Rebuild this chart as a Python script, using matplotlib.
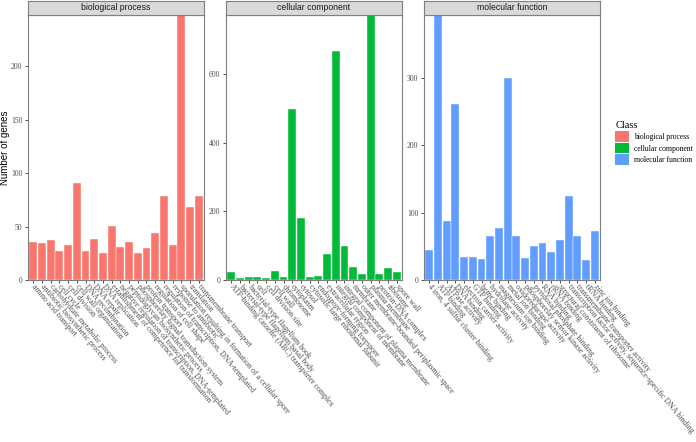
import matplotlib
matplotlib.use("Agg")
import matplotlib.pyplot as plt
from matplotlib.patches import Patch
from matplotlib.ticker import MultipleLocator

W, H = 696, 442
SERIF, SANS = "Liberation Serif", "Liberation Sans"

bp_terms = [
    "amino acid transport", "antibiotic biosynthetic process",
    "carbohydrate metabolic process", "cell cycle", "cell division",
    "cell wall organization", "DNA recombination", "DNA repair",
    "DNA replication", "establishment of competence for transformation",
    "negative regulation of transcription, DNA-templated",
    "peptidoglycan biosynthetic process", "phosphorelay signal transduction system",
    "protein transport", "regulation of cell shape",
    "regulation of transcription, DNA-templated", "response to antibiotic",
    "sporulation resulting in formation of a cellular spore", "translation",
    "transmembrane transport",
]
bp_counts = [36, 35, 37, 27, 33, 91, 27, 38, 25, 51, 31, 36, 25, 30, 44, 79, 33, 248, 68, 79]

cc_terms = [
    "ATP-binding cassette (ABC) transporter complex",
    "bacterial-type flagellum basal body", "bacterial-type flagellum hook",
    "cell", "cell division site", "cell wall", "chromosome", "cytoplasm",
    "cytosol", "cytosolic large ribosomal subunit", "endospore-forming forespore",
    "extracellular region", "integral component of membrane",
    "integral component of plasma membrane", "membrane",
    "outer membrane-bounded periplasmic space", "plasma membrane",
    "protein-DNA complex", "ribosome", "spore wall",
]
cc_counts = [22, 7, 9, 8, 7, 25, 9, 497, 180, 8, 12, 77, 667, 99, 37, 18, 772, 18, 36, 24]

mf_terms = [
    "4 iron, 4 sulfur cluster binding", "ATP binding", "ATPase activity",
    "DNA binding", "electron carrier activity", "GTP binding", "heme binding",
    "hydrolase activity", "magnesium ion binding", "metal ion binding",
    "oxidoreductase activity", "phosphorelay sensor kinase activity",
    "pyridoxal phosphate binding", "RNA binding", "rRNA binding",
    "structural constituent of ribosome",
    "transcription factor activity, sequence-specific DNA binding",
    "transmembrane transporter activity", "tRNA binding", "zinc ion binding",
]
mf_counts = [45, 394, 87, 262, 34, 34, 31, 65, 78, 300, 65, 33, 51, 55, 42, 60, 125, 65, 29, 73]

panels = [
    ("biological process", bp_terms, bp_counts, "#F8766D", 50),
    ("cellular component", cc_terms, cc_counts, "#00BA38", 200),
    ("molecular function", mf_terms, mf_counts, "#619CFF", 100),
]


def box(left, top, w, h):
    # pixel box -> figure fraction
    return [left / W, 1 - (top + h) / H, w / W, h / H]


fig = plt.figure(figsize=(W / 100, H / 100), dpi=100)

for i, (name, terms, counts, col, step) in enumerate(panels):
    left = 28 + i * 198
    ax = fig.add_axes(box(left, 15, 176, 265))
    x = list(range(len(terms)))
    ax.bar(x, counts, width=0.9, color=col, edgecolor="white", linewidth=0.3)
    ax.set_xlim(-0.6, len(terms) - 0.4)
    ax.set_ylim(0, max(counts))
    ax.yaxis.set_major_locator(MultipleLocator(step))
    ax.set_xticks(x)
    ax.set_xticklabels(terms, rotation=-50, ha="left", va="center",
                       rotation_mode="anchor", fontsize=5.7, family=SERIF, color="#4d4d4d")
    for lb in ax.get_yticklabels():
        lb.set_family(SERIF); lb.set_fontsize(5.5); lb.set_color("#4d4d4d")
    ax.tick_params(length=2.5, width=0.6, color="#333333", pad=1.5)
    for sp in ax.spines.values():
        sp.set_color("#7f7f7f"); sp.set_linewidth(0.8)

    sx = fig.add_axes(box(left, 1, 176, 14))
    sx.set_xticks([]); sx.set_yticks([])
    sx.set_facecolor("#d9d9d9")
    for sp in sx.spines.values():
        sp.set_color("#7f7f7f"); sp.set_linewidth(0.8)
    sx.text(0.5, 0.5, name, ha="center", va="center", fontsize=6.2,
            family=SANS, color="#1a1a1a", transform=sx.transAxes)

fig.text(5 / W, 1 - 148 / H, "Number of genes", rotation=90, ha="center",
         va="center", fontsize=7, family=SANS)

handles = [Patch(facecolor=c, label=n) for n, _, _, c, _ in panels]
fig.legend(handles=handles, title="Class", loc="upper left",
           bbox_to_anchor=(610 / W, 1 - 116 / H), frameon=False,
           prop={"family": SERIF, "size": 5.5},
           title_fontproperties={"family": SERIF, "size": 7.5},
           handlelength=1.8, handleheight=1.8, labelspacing=0.1,
           handletextpad=0.6, alignment="left", borderpad=0.2)

fig.savefig("out.png", dpi=100)
